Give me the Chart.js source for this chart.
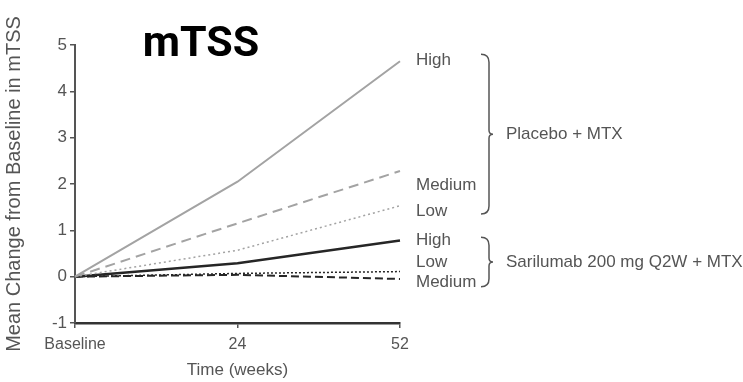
<!DOCTYPE html>
<html>
<head>
<meta charset="utf-8">
<script src="https://cdn.jsdelivr.net/npm/chart.js@4.4.1/dist/chart.umd.min.js"></script>
<style>
  html, body { margin: 0; padding: 0; background: #fff; }
  #wrap { width: 743px; height: 382px; position: relative; }
</style>
</head>
<body>
<div id="wrap"><canvas id="chart"></canvas></div>
<script>
// x categories and tick values
var timeLabels = ["Baseline", "24", "52"];
var yTicks = [-1, 0, 1, 2, 3, 4, 5];

// mean change from baseline in mTSS
var placeboHigh   = [0, 2.05, 4.65];
var placeboMedium = [0, 1.15, 2.28];
var placeboLow    = [0, 0.57, 1.53];
var sariHigh      = [0, 0.29, 0.78];
var sariLow       = [0, 0.07, 0.11];
var sariMedium    = [0, 0.04, -0.05];

var groupPlacebo = "Placebo + MTX";
var groupSari = "Sarilumab 200 mg Q2W + MTX";

var grey = "#a3a3a3";
var dark = "#262626";
var axisColor = "#555";
var textColor = "#555";
var sans = "'Liberation Sans', Arial, sans-serif";
var tickFont = { family: sans, size: 16 };

function line(data, color, width, dash) {
  return {
    data: data,
    borderColor: color,
    borderWidth: width,
    borderDash: dash,
    pointRadius: 0,
    tension: 0,
    fill: false
  };
}

// right hand labels: text and the value they sit at
var endLabels = [
  ["High", 4.67], ["Medium", 1.97], ["Low", 1.42],
  ["High", 0.78], ["Low", 0.32], ["Medium", -0.13]
];

function brace(ctx, x, top, bottom) {
  var mid = (top + bottom) / 2, w = 6, r = 4;
  ctx.beginPath();
  ctx.moveTo(x - 2, top);
  ctx.quadraticCurveTo(x + w, top, x + w, top + r * 2);
  ctx.lineTo(x + w, mid - r);
  ctx.quadraticCurveTo(x + w, mid, x + w + 4, mid);
  ctx.quadraticCurveTo(x + w, mid, x + w, mid + r);
  ctx.lineTo(x + w, bottom - r * 2);
  ctx.quadraticCurveTo(x + w, bottom, x - 2, bottom);
  ctx.stroke();
}

var annotate = {
  id: "annotate",
  afterDraw: function (chart) {
    var ctx = chart.ctx, y = chart.scales.y;
    ctx.save();
    ctx.fillStyle = "#000";
    ctx.font = "bold 43px Roboto, sans-serif";
    ctx.textAlign = "center";
    ctx.textBaseline = "alphabetic";
    ctx.fillText("mTSS", 201, 56);

    ctx.fillStyle = textColor;
    ctx.font = "17px " + sans;
    ctx.textAlign = "left";
    ctx.textBaseline = "middle";
    endLabels.forEach(function (l) {
      ctx.fillText(l[0], 416, y.getPixelForValue(l[1]));
    });

    ctx.strokeStyle = "#555";
    ctx.lineWidth = 1.5;
    brace(ctx, 483, y.getPixelForValue(4.8), y.getPixelForValue(1.35));
    brace(ctx, 483, y.getPixelForValue(0.85), y.getPixelForValue(-0.22));

    var p = y.getPixelForValue((4.8 + 1.35) / 2);
    ctx.fillText(groupPlacebo, 506, p);
    var s = y.getPixelForValue((0.85 - 0.22) / 2);
    ctx.fillText(groupSari, 506, s);
    ctx.restore();
  }
};

new Chart(document.getElementById("chart"), {
  type: "line",
  data: {
    labels: timeLabels,
    datasets: [
      line(placeboHigh, grey, 2, []),
      line(placeboMedium, grey, 2, [10, 6]),
      line(placeboLow, grey, 1.5, [2, 3]),
      line(sariHigh, dark, 2.5, []),
      line(sariLow, dark, 1.5, [2, 2]),
      line(sariMedium, dark, 2, [8, 4])
    ]
  },
  options: {
    responsive: true,
    maintainAspectRatio: false,
    animation: false,
    layout: { padding: { top: 45, right: 343, left: 0, bottom: 0 } },
    plugins: { legend: { display: false }, tooltip: { enabled: false } },
    scales: {
      x: {
        type: "category",
        offset: false,
        afterFit: function (s) { s.height = 59; },
        grid: { display: true, drawOnChartArea: false, drawTicks: true, tickLength: 5, color: axisColor, lineWidth: 1.5 },
        border: { display: true, color: "#333", width: 2.5 },
        ticks: { color: textColor, font: tickFont, padding: 7, maxRotation: 0 },
        title: { display: true, text: "Time (weeks)", color: textColor, font: { family: sans, size: 17 }, padding: { top: 0, bottom: 1 } }
      },
      y: {
        min: -1,
        max: 5,
        afterFit: function (s) { s.width = 75; },
        afterBuildTicks: function (s) { s.ticks = yTicks.map(function (v) { return { value: v }; }); },
        grid: { display: true, drawOnChartArea: false, drawTicks: true, tickLength: 5, color: axisColor, lineWidth: 1.5 },
        border: { display: true, color: "#555", width: 2 },
        ticks: { color: textColor, font: { family: sans, size: 17 }, padding: 3 },
        title: { display: true, text: "Mean Change from Baseline in mTSS", color: textColor, font: { family: sans, size: 20 }, padding: { top: 2, bottom: 0 } }
      }
    }
  },
  plugins: [annotate]
});
</script>
</body>
</html>
